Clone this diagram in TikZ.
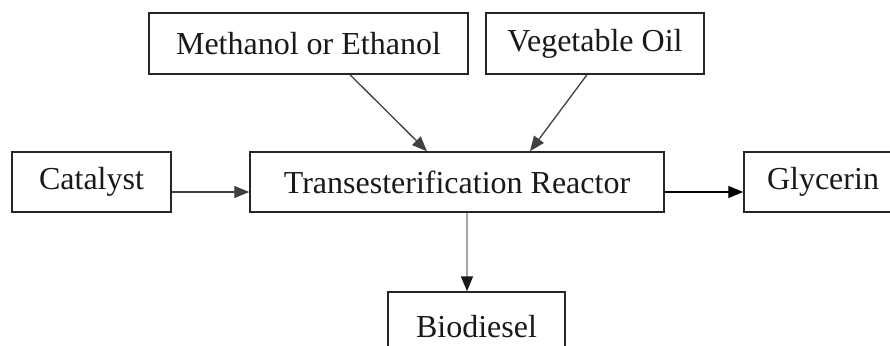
\documentclass[tikz,border=0pt]{standalone}
\usepackage{fontspec}
\setmainfont{Liberation Serif}
\usetikzlibrary{arrows.meta}
\begin{document}
\begin{tikzpicture}[x=1pt,y=-1pt,
  box/.style={draw=black!85, line width=1.5pt, inner sep=0pt, fill=white,
    font=\fontsize{32}{38}\selectfont, text=black!90},
  arr/.style={line width=1.3pt, draw=black!75,
    -{Triangle[length=15pt,width=12pt]}},
  lightarr/.style={line width=1.6pt, draw=black!35,
    -{Triangle[length=15pt,width=12pt,color=black!90]}}]
\useasboundingbox (0,0) rectangle (890,345);
\clip (0,0) rectangle (890,345);
\fill[white] (0,0) rectangle (890,345);

% feed streams
\node[box, minimum width=319pt, minimum height=61pt] (meth) at (308.5,43.5) {Methanol or Ethanol};
\node[box, minimum width=218pt, minimum height=61pt] (veg) at (595,43.5) {Vegetable Oil};
\node[box, minimum width=159pt, minimum height=60pt] (cat) at (91.5,182) {Catalyst};

% reactor and products
\node[box, minimum width=414pt, minimum height=60pt] (reac) at (457,182) {Transesterification Reactor};
\node[box, minimum width=158pt, minimum height=60pt] (gly) at (823,182) {Glycerin};
\node[box, minimum width=177pt, minimum height=80pt, text depth=0pt] (bio) at (476.5,332) {\raisebox{12pt}{Biodiesel}};

% flows
\draw[arr] ([xshift=41.5pt]meth.south) -- ([xshift=-30pt]reac.north);
\draw[arr] ([xshift=-8pt]veg.south) -- ([xshift=73pt]reac.north);
\draw[arr] ([yshift=-10pt]cat.east) -- ([yshift=-10pt]reac.west);
\draw[arr, draw=black] ([yshift=-10pt]reac.east) -- ([yshift=-10pt]gly.west);
\draw[lightarr] ([xshift=10pt]reac.south) -- ([xshift=10pt]reac.south |- bio.north);
\end{tikzpicture}
\end{document}
